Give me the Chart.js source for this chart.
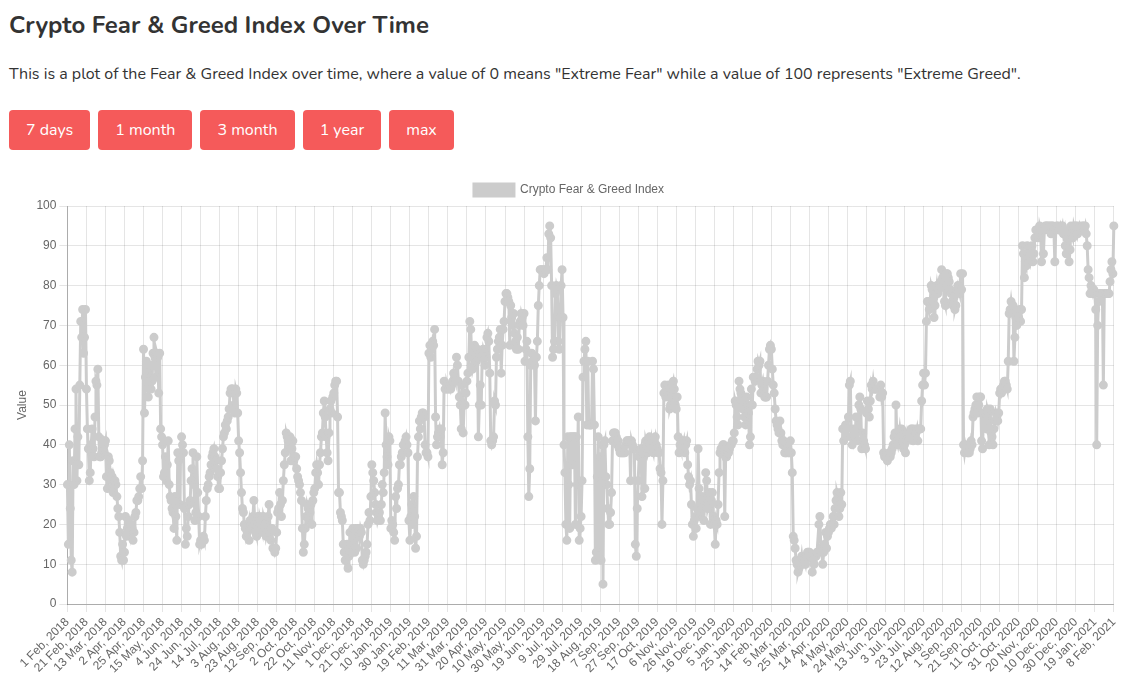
<!DOCTYPE html>
<html>
<head>
<meta charset="utf-8">
<title>Crypto Fear & Greed Index Over Time</title>
<script src="https://cdn.jsdelivr.net/npm/chart.js@4.4.1/dist/chart.umd.min.js"></script>
<style>
    body {
        margin: 0;
        padding: 0 9px;
        font-family: 'Nunito', 'Lato', sans-serif;
        color: #333;
        background: #fff;
        overflow: hidden;
    }
    h2 {
        margin: 0;
        padding-top: 11px;
        font-size: 24px;
        line-height: 28px;
        font-weight: bold;
    }
    p {
        margin: 24px 0 0;
        font-size: 16px;
        line-height: 22px;
    }
    .buttons {
        margin-top: 25px;
        height: 40px;
        display: flex;
        gap: 8px;
    }
    .buttons button {
        height: 40px;
        padding: 0 17px;
        border: none;
        border-radius: 4px;
        background: #f55a5a;
        color: #fff;
        font-family: inherit;
        font-size: 16px;
    }
    .chart-box {
        margin-top: 22px;
        position: relative;
        width: 1118px;
        height: 510px;
    }
</style>
</head>
<body>
<h2>Crypto Fear &amp; Greed Index Over Time</h2>
<p>This is a plot of the Fear &amp; Greed Index over time, where a value of 0 means "Extreme Fear" while a value of 100 represents "Extreme Greed".</p>
<div class="buttons">
    <button>7 days</button>
    <button>1 month</button>
    <button>3 month</button>
    <button>1 year</button>
    <button>max</button>
</div>
<div class="chart-box">
    <canvas id="fngChart"></canvas>
</div>

<script>
// daily values, 1 Feb 2018 .. 8 Feb 2021 (no data for 14-16 Apr 2018)
const startDate = '2018-02-01';
const endDate = '2021-02-08';
const missingDays = ['2018-04-14', '2018-04-15', '2018-04-16'];
const monthNames = ['Jan', 'Feb', 'Mar', 'Apr', 'May', 'Jun', 'Jul', 'Aug', 'Sep', 'Oct', 'Nov', 'Dec'];

const fng2018 = [
    30,15,40,24,11,8,36,30,44,54,31,42,35,55,71,67,74,63,67,74,
    54,44,39,31,33,40,44,39,37,47,56,55,59,42,37,37,38,40,41,40,
    41,32,29,37,36,33,31,32,28,30,31,30,27,24,22,18,12,11,15,11,
    13,22,17,19,21,18,17,20,19,16,18,22,23,26,26,27,29,32,29,36,
    64,48,57,61,58,52,55,60,54,56,63,67,62,57,63,62,53,63,44,42,
    40,32,33,37,31,35,41,30,27,26,24,23,19,27,22,16,38,36,25,38,
    42,40,38,24,15,19,17,22,25,26,31,34,38,30,21,23,37,28,22,15,
    16,15,16,17,16,22,26,29,30,32,33,35,37,38,39,37,36,34,32,29,
    29,33,36,39,42,43,45,44,46,47,49,53,54,54,54,50,48,54,53,48,
    41,38,33,28,24,23,20,19,17,18,20,16,21,20,19,22,26,20,18,17,
    22,19,22,21,19,18,22,21,20,17,18,22,25,18,16,19,14,14,13,14,
    18,23,24,28,25,22,26,31,35,38,43,42,41,40,42,36,39,41,36,37,
    37,34,32,31,30,28,26,19,13,15,19,22,25,24,21,23,25,20,26,28,
    29,33,35,33,30,35,38,42,43,48,51,47,42,38,36,43,49,51,48,52,
    53,55,56,56,47,28,28,23,22,21,15,13,11,13,15,9,12,18,15,13,
    19,15,13,19,14,19,19,17,19,18,11,10,11,12,13,15,20,23,21,27,
    35,33,31,28,25,23,21,22,23,21,25
];

const fng2019 = [
    30,28,33,48,40,37,35,42,41,
    19,21,20,18,16,27,24,29,30,35,35,37,38,40,40,41,42,40,38,21,
    16,22,25,20,27,22,14,17,37,42,46,44,47,48,48,47,40,38,38,37,
    63,65,62,64,66,65,69,47,40,42,43,44,42,44,35,38,56,54,54,55,
    54,54,55,54,55,56,58,57,56,62,60,56,52,50,44,55,43,50,50,53,
    56,58,62,71,69,62,59,60,65,63,61,64,42,50,55,50,62,64,63,60,
    62,67,68,66,58,41,40,41,42,51,50,62,64,66,67,69,58,65,69,71,
    76,78,78,77,76,65,75,72,70,73,68,66,64,67,64,70,71,73,72,70,
    73,61,64,66,42,27,34,60,63,61,61,60,46,62,66,75,80,84,84,84,
    84,83,84,84,87,84,93,95,92,80,62,64,66,78,80,79,66,64,72,80,
    84,72,40,33,20,16,42,30,19,42,42,35,42,42,20,42,30,47,16,19,
    22,31,57,61,64,66,45,61,45,45,45,45,61,59,45,11,13,32,42,12,
    37,11,40,5,40,41,32,30,24,20,20,23,28,41,43,43,43,42,40,41,
    39,38,38,38,38,38,38,40,41,41,41,41,31,41,40,39,39,15,12,24,
    31,37,38,39,27,38,39,29,41,40,38,39,42,39,41,39,38,41,42,40,
    39,38,38,34,33,20,31,53,55,52,54,53,55,49,50,52,55,56,54,50,
    49,52,42,38,40,39,41,40,41,38,40,41,35,32,30,31,25,20,17,21,
    22,19,24,39,29,22,25,27,24,21,26,33,31,24,25,28,20,26,28,22,
    20,15,21,20,25,33,38,39,38,40,40,22,38,37,38,38
];

const fng2020 = [
    39,40,40,41,
    41,43,51,50,47,45,56,54,53,51,49,51,47,45,52,50,48,40,42,54,
    50,57,57,56,57,59,61,60,61,53,55,56,54,52,52,52,56,60,64,65,
    64,59,55,53,49,46,45,44,43,46,43,41,40,41,38,38,38,39,38,38,
    41,38,33,17,16,14,11,10,8,9,11,10,12,10,11,11,10,12,13,13,
    13,12,12,8,11,10,12,12,13,13,20,22,14,13,10,13,15,18,14,17,
    18,19,20,19,20,22,20,24,26,28,27,22,24,28,25,44,41,44,45,42,
    44,47,55,56,42,40,44,41,42,47,44,41,50,52,49,39,43,41,40,39,
    48,51,49,47,51,55,54,56,54,54,54,54,54,54,52,55,52,53,38,37,
    37,37,36,37,38,37,38,39,40,42,43,50,41,40,42,44,42,44,41,39,
    40,38,41,43,42,43,42,44,44,41,44,42,43,44,41,44,44,44,51,55,
    58,55,58,71,76,76,74,76,80,79,76,72,75,78,80,78,79,80,81,84,
    82,80,76,75,83,83,82,81,79,78,76,75,77,74,75,79,80,79,78,83,
    79,83,40,38,40,39,38,38,38,39,41,40,47,48,49,50,52,48,50,52,
    52,41,39,48,46,48,44,49,48,40,49,43,42,40,44,46,48,47,46,48,
    53,54,53,54,55,56,56,55,54,61,73,74,76,74,75,61,67,72,70,73,
    72,74,71,74,90,88,82,86,85,90,88,87,86,88,90,86,88,92,94,94,
    94,92,95,94,86,94,88,94,95,95,95,94,95,95,93,95,95,94,86,94,
    95,95,94,94,95,94,95,93,94,90,88,92,93,86,89,95,93,92,95,94,
    95,95
];

const fng2021 = [
    93,94,95,94,94,95,95,94,95,93,90,84,82,78,80,79,78,79,
    78,74,40,70,76,78,78,78,78,55,78,78,78,78,78,78,81,84,86,83,95
];

const fngValues = fng2018.concat(fng2019, fng2020, fng2021);

// one category label per day, e.g. "1 Feb, 2018"
const dateLabels = [];
for (let d = new Date(startDate + 'T00:00:00Z'); d <= new Date(endDate + 'T00:00:00Z'); d.setUTCDate(d.getUTCDate() + 1)) {
    const iso = d.toISOString().slice(0, 10);
    if (missingDays.includes(iso)) continue;
    dateLabels.push(d.getUTCDate() + ' ' + monthNames[d.getUTCMonth()] + ', ' + d.getUTCFullYear());
}

const ctx = document.getElementById('fngChart').getContext('2d');

window.fngChart = new Chart(ctx, {
    type: 'line',
    data: {
        labels: dateLabels,
        datasets: [{
            label: 'Crypto Fear & Greed Index',
            data: fngValues,
            backgroundColor: '#cccccc',
            borderColor: '#cccccc',
            pointBackgroundColor: '#cccccc',
            pointBorderColor: '#cccccc',
            borderWidth: 3,
            pointRadius: 3,
            fill: false,
            tension: 0
        }]
    },
    options: {
        responsive: true,
        maintainAspectRatio: false,
        animation: false,
        layout: {
            padding: { top: 2, left: 2, bottom: 3 }
        },
        plugins: {
            legend: { display: true },
            tooltip: {
                mode: 'index',
                intersect: false
            }
        },
        scales: {
            x: {
                grid: { color: 'rgba(0, 0, 0, 0.1)' },
                border: { color: 'rgba(0, 0, 0, 0.25)' },
                ticks: {
                    color: '#666',
                    autoSkip: false,
                    maxRotation: 45,
                    minRotation: 45,
                    callback: function (value, index) {
                        return index % 20 === 0 ? this.getLabelForValue(value) : null;
                    }
                }
            },
            y: {
                min: 0,
                max: 100,
                grid: { color: 'rgba(0, 0, 0, 0.1)' },
                border: { color: 'rgba(0, 0, 0, 0.25)' },
                ticks: {
                    color: '#666',
                    stepSize: 10
                },
                title: {
                    display: true,
                    text: 'Value',
                    color: '#666'
                }
            }
        }
    }
});
</script>
</body>
</html>
